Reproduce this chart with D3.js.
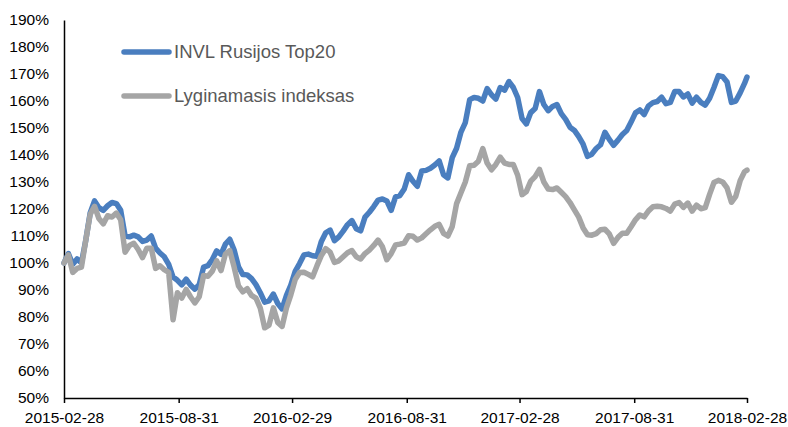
<!DOCTYPE html>
<html>
<head>
<meta charset="utf-8">
<script src="https://cdn.jsdelivr.net/npm/d3@7"></script>
<style>
  html, body { margin: 0; padding: 0; background: #ffffff; }
  svg { display: block; font-family: "Liberation Sans", Arial, sans-serif; }
</style>
</head>
<body>
<svg id="chart" width="788" height="427"></svg>
<script>
const dates = [
"2015-02-28","2015-03-07","2015-03-14","2015-03-21","2015-03-28","2015-04-04","2015-04-11","2015-04-18","2015-04-25",
"2015-05-02","2015-05-09","2015-05-16","2015-05-23","2015-05-30","2015-06-06","2015-06-13","2015-06-20","2015-06-27",
"2015-07-04","2015-07-11","2015-07-18","2015-07-25","2015-08-01","2015-08-08","2015-08-15","2015-08-22","2015-08-29",
"2015-09-05","2015-09-12","2015-09-19","2015-09-26","2015-10-03","2015-10-10","2015-10-17","2015-10-24","2015-10-31",
"2015-11-07","2015-11-14","2015-11-21","2015-11-28","2015-12-05","2015-12-12","2015-12-19","2015-12-26",
"2016-01-02","2016-01-09","2016-01-16","2016-01-23","2016-01-30","2016-02-06","2016-02-13","2016-02-20","2016-02-27",
"2016-03-05","2016-03-12","2016-03-19","2016-03-26","2016-04-02","2016-04-09","2016-04-16","2016-04-23","2016-04-30",
"2016-05-07","2016-05-14","2016-05-21","2016-05-28","2016-06-04","2016-06-11","2016-06-18","2016-06-25",
"2016-07-02","2016-07-09","2016-07-16","2016-07-23","2016-07-30","2016-08-06","2016-08-13","2016-08-20","2016-08-27",
"2016-09-03","2016-09-10","2016-09-17","2016-09-24","2016-10-01","2016-10-08","2016-10-15","2016-10-22","2016-10-29",
"2016-11-05","2016-11-12","2016-11-19","2016-11-26","2016-12-03","2016-12-10","2016-12-17","2016-12-24","2016-12-31",
"2017-01-07","2017-01-14","2017-01-21","2017-01-28","2017-02-04","2017-02-11","2017-02-18","2017-02-25",
"2017-03-04","2017-03-11","2017-03-18","2017-03-25","2017-04-01","2017-04-08","2017-04-15","2017-04-22","2017-04-29",
"2017-05-06","2017-05-13","2017-05-20","2017-05-27","2017-06-03","2017-06-10","2017-06-17","2017-06-24",
"2017-07-01","2017-07-08","2017-07-15","2017-07-22","2017-07-29","2017-08-05","2017-08-12","2017-08-19","2017-08-26",
"2017-09-02","2017-09-09","2017-09-16","2017-09-23","2017-09-30","2017-10-07","2017-10-14","2017-10-21","2017-10-28",
"2017-11-04","2017-11-11","2017-11-18","2017-11-25","2017-12-02","2017-12-09","2017-12-16","2017-12-23","2017-12-30",
"2018-01-06","2018-01-13","2018-01-20","2018-01-27","2018-02-03","2018-02-10","2018-02-17","2018-02-24","2018-02-28"
];

// INVL Rusijos Top20 (% of start)
const invlValues = [
100,103.5,99.5,101.5,100,108.5,118.5,123,120.5,
119.5,121.2,122.4,122,119.5,110,109.7,110.3,109.7,
108,108.5,110,105.5,103.7,102.3,99.5,94.8,93.6,
91.9,94,91.8,90.3,92,98.5,99,101.3,104.5,
103.2,107,108.8,104.8,98.6,95.7,95.6,94.2,
92,89,85.5,86,88.5,85,83,88,91.8,
96.9,99.8,103,103.3,102.7,102.5,108,111.2,112.2,
108.3,109.7,111.8,114.2,115.7,112.7,111.9,117,
118.8,120.9,123.3,123.7,123,119.5,124.5,125,127.4,
132.7,130.3,128.4,134.1,134.3,135.1,136.3,137.8,132.7,
131.5,139,142.5,148.5,152,160.5,161.3,161,160,
164.6,162.3,160.7,165,164,167.2,165,161.3,
153.5,151.5,155.7,157.2,163.5,158.7,156.4,158,158.7,
155.3,153.2,150.3,149.1,146.8,144,139.5,140.3,
142.4,143.8,148.4,145.8,143.6,145.5,147.6,149.1,152.2,
155.6,156.7,155,158.2,159.4,159.8,161.4,159,159.5,
163.5,163.5,161.5,162.6,159.2,161.4,159.5,158.5,161,
165,169.4,169,167,159.5,160,163,166.5,168.9
];

// Lyginamasis indeksas (% of start)
const indexValues = [
100,103,96.5,98,98.5,108.5,118,121,116.5,
114.5,117.5,117,118.5,116,104,106.5,107.3,105,
102,105.5,105.5,98,99,97.5,96.5,79,89,
87,90.2,87.5,85.2,87.5,95.4,95.1,97,100.8,
97.2,103.3,104.6,98.5,91.5,89.3,90.5,88,
87,83.3,76,77,83.4,78,76.5,83.4,88.2,
93.9,96.5,96.6,95.8,94.9,99,102.8,105.3,104,
100.2,100.8,102.3,103.8,104.6,102.3,101.5,103.5,
104.8,106.5,108.5,106,101.2,103.5,106.7,107,107.4,
110.1,109.9,108.5,109.3,110.8,112.3,113.6,114.3,111,
110,113.5,122,126,130,136,136.2,137.7,142.4,
137,134.5,136.5,139.2,137,136.5,136.5,132.5,
125.3,126.5,130.3,132,134.7,130,127.4,127.2,127.8,
126.2,124.6,122.4,119.7,117,113,110.5,110.3,
110.9,112.3,112.5,110.8,107.3,109.5,111,111,113.4,
116,117.8,117.1,119.3,120.8,121,120.8,120.2,119.2,
121.8,122.4,120.6,122.2,119.2,121.4,120.1,120.5,125.4,
129.8,130.6,130,127.8,122.5,124.7,130.5,133.8,134.4
];

const seriesNames = ["INVL Rusijos Top20", "Lyginamasis indeksas"];
const seriesColors = ["#4a7ebf", "#a5a5a5"];
const yTicks = [50,60,70,80,90,100,110,120,130,140,150,160,170,180,190];
const xTickLabels = ["2015-02-28","2015-08-31","2016-02-29","2016-08-31","2017-02-28","2017-08-31","2018-02-28"];

const parse = d3.utcParse("%Y-%m-%d");
const W = 788, H = 427;
const margin = {top: 20, right: 41, bottom: 29, left: 64};

const svg = d3.select("#chart");
const x = d3.scaleUtc()
  .domain([parse(xTickLabels[0]), parse(xTickLabels[xTickLabels.length - 1])])
  .range([margin.left, W - margin.right]);
const y = d3.scaleLinear()
  .domain([50, 190])
  .range([H - margin.bottom, margin.top]);

// Y axis (labels only + vertical line)
const yAxis = d3.axisLeft(y).tickValues(yTicks).tickSize(0).tickPadding(15)
  .tickFormat(d => d + "%");
const gy = svg.append("g").attr("transform", `translate(${margin.left},0)`).call(yAxis);
gy.select(".domain").attr("stroke", "#000").attr("stroke-width", 1.5);
gy.selectAll("text").attr("font-size", 15.5).attr("fill", "#000")
  .attr("font-family", "'Liberation Sans', Arial, sans-serif");

// X axis
const xAxis = d3.axisBottom(x).tickValues(xTickLabels.map(parse)).tickSize(5).tickSizeOuter(0)
  .tickPadding(9).tickFormat(d3.utcFormat("%Y-%m-%d"));
const gx = svg.append("g").attr("transform", `translate(0,${H - margin.bottom})`).call(xAxis);
gx.select(".domain").attr("stroke", "#000").attr("stroke-width", 1.5);
gx.selectAll(".tick line").attr("stroke", "#000").attr("stroke-width", 1.5);
gx.selectAll("text").attr("font-size", 15.5).attr("fill", "#000")
  .attr("font-family", "'Liberation Sans', Arial, sans-serif");

// Lines
const parsedDates = dates.map(parse);
const line = d3.line().x((d, i) => x(parsedDates[i])).y(d => y(d)).curve(d3.curveLinear);
const allSeries = [invlValues, indexValues];
allSeries.forEach((vals, si) => {
  svg.append("path")
    .datum(vals)
    .attr("fill", "none")
    .attr("stroke", seriesColors[si])
    .attr("stroke-width", 5.5)
    .attr("stroke-linejoin", "round")
    .attr("stroke-linecap", "round")
    .attr("d", line);
});

// Legend
const legend = svg.append("g");
seriesNames.forEach((name, i) => {
  const ly = 52 + i * 44;
  legend.append("line")
    .attr("x1", 124).attr("x2", 169).attr("y1", ly).attr("y2", ly)
    .attr("stroke", seriesColors[i]).attr("stroke-width", 5.5).attr("stroke-linecap", "round");
  legend.append("text")
    .attr("x", 174).attr("y", ly).attr("dy", "0.35em")
    .attr("font-size", 18.5).attr("fill", "#595959")
    .attr("font-family", "'Liberation Sans', Arial, sans-serif")
    .text(name);
});
</script>
</body>
</html>
